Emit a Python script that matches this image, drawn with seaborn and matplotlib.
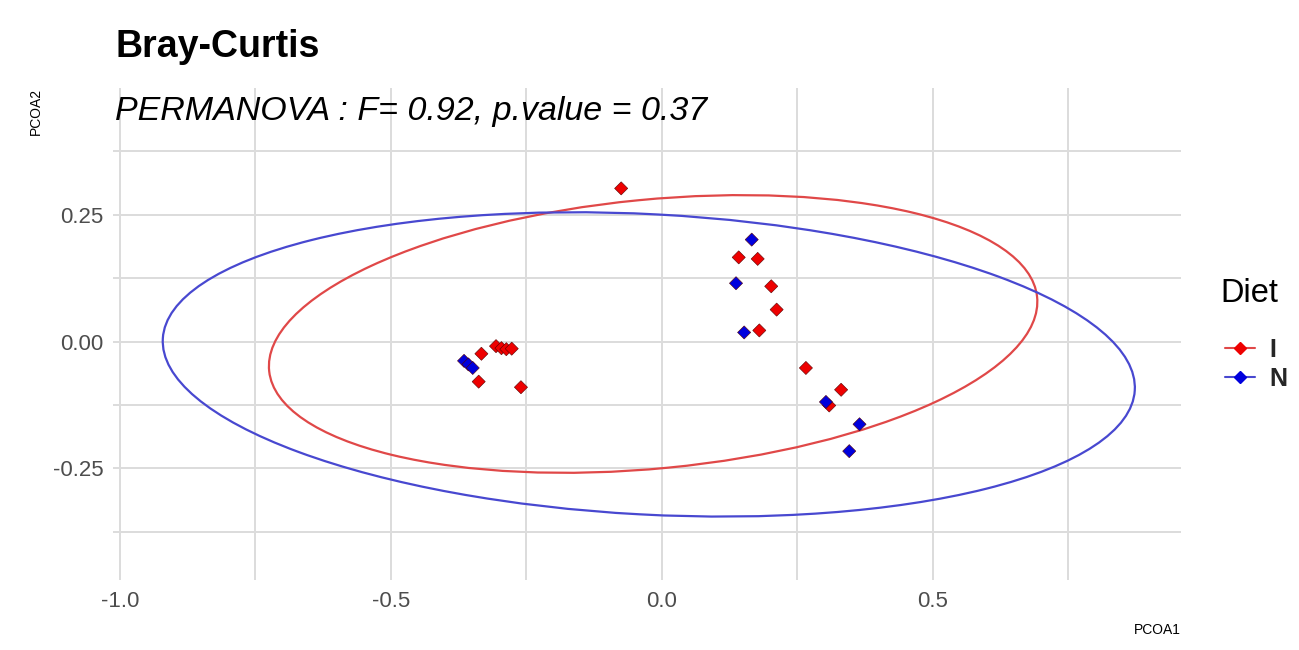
import matplotlib
matplotlib.use("Agg")
import matplotlib.pyplot as plt
from matplotlib.patches import Ellipse
from matplotlib.lines import Line2D
import seaborn as sns
import pandas as pd

# PCoA scores, per diet group
i_x = [-0.075, -0.333, -0.306, -0.296, -0.287, -0.277, -0.338, -0.260,
       0.142, 0.177, 0.202, 0.212, 0.180, 0.266, 0.331, 0.309]
i_y = [0.302, -0.024, -0.009, -0.013, -0.015, -0.014, -0.079, -0.090,
       0.166, 0.163, 0.109, 0.063, 0.022, -0.052, -0.095, -0.126]
n_x = [-0.365, -0.357, -0.349, 0.166, 0.137, 0.152, 0.303, 0.365, 0.346]
n_y = [-0.038, -0.045, -0.052, 0.201, 0.115, 0.018, -0.119, -0.163, -0.216]

groups = ["I", "N"]
point_colors = ["#EE0000", "#0000DD"]
ellipse_colors = ["#E04848", "#4848D0"]

# 95% ellipses (center, full width/height, rotation in degrees)
ell_cx = [-0.016, -0.024]
ell_cy = [0.015, -0.045]
ell_w = [1.425, 1.797]
ell_h = [0.530, 0.592]
ell_angle = [5.94, -3.27]

x_ticks = [-1.0, -0.5, 0.0, 0.5]
y_ticks = [-0.25, 0.0, 0.25]


def main():
    df = pd.DataFrame({
        "PCOA1": i_x + n_x,
        "PCOA2": i_y + n_y,
        "Diet": ["I"] * len(i_x) + ["N"] * len(n_x),
    })

    sns.set_theme(style="white")
    plt.rcParams["font.family"] = ["Liberation Sans", "DejaVu Sans"]

    fig = plt.figure(figsize=(12.99, 6.5), dpi=100)
    ax = fig.add_axes([0.087, 0.1077, 0.822, 0.757])

    # grid like theme_minimal
    for v in [-1.0, -0.75, -0.5, -0.25, 0.0, 0.25, 0.5, 0.75]:
        ax.axvline(v, color="#DCDCDC", lw=1.4, zorder=0)
    for h in [-0.375, -0.25, -0.125, 0.0, 0.125, 0.25, 0.375]:
        ax.axhline(h, color="#DCDCDC", lw=1.4, zorder=0)

    for k in range(len(groups)):
        ax.add_patch(Ellipse((ell_cx[k], ell_cy[k]), ell_w[k], ell_h[k],
                             angle=ell_angle[k], fill=False,
                             edgecolor=ellipse_colors[k], lw=1.6, zorder=2))

    sns.scatterplot(data=df, x="PCOA1", y="PCOA2", hue="Diet",
                    palette=dict(zip(groups, point_colors)), marker="D",
                    s=45, linewidth=0.4, edgecolor="#550000", legend=False,
                    ax=ax, zorder=3)

    ax.set_xlim(-1.013, 0.958)
    ax.set_ylim(-0.47, 0.50)
    ax.set_xticks(x_ticks)
    ax.set_xticklabels([f"{t:.1f}" for t in x_ticks])
    ax.set_yticks(y_ticks)
    ax.set_yticklabels([f"{t:.2f}" for t in y_ticks])
    ax.tick_params(length=0, labelsize=16, labelcolor="#4D4D4D")
    ax.tick_params(axis="x", pad=8)
    ax.tick_params(axis="y", pad=7)
    for s in ax.spines.values():
        s.set_visible(False)

    ax.set_xlabel("")
    ax.set_ylabel("")
    fig.text(0.909, 1 - 630 / 650, "PCOA1", ha="right", va="center",
             fontsize=10, color="black")
    fig.text(36 / 1299, 1 - 88 / 650, "PCOA2", ha="center", va="top",
             rotation=90, fontsize=10, color="black")

    fig.text(115 / 1299, 1 - 57 / 650, "Bray-Curtis", ha="left", va="baseline",
             fontsize=27, fontweight="bold", color="black")
    ax.text(-1.009, 0.453, "PERMANOVA : F= 0.92, p.value = 0.37",
            ha="left", va="center", fontsize=24.5, style="italic",
            color="black", zorder=4)

    # legend: title as plain text, keys below it
    fig.text(1220 / 1299, 1 - 293 / 650, "Diet", ha="left", va="center",
             fontsize=23.5, color="black")
    handles = [Line2D([0], [0], color=ellipse_colors[k], lw=1.5, marker="D",
                      markersize=6.5, markerfacecolor=point_colors[k],
                      markeredgecolor=point_colors[k]) for k in range(2)]
    fig.legend(handles, groups, loc="upper left",
               bbox_to_anchor=(1202 / 1299, 1 - 315 / 650), frameon=False,
               handlelength=1.2, handletextpad=0.6, labelspacing=0.2,
               prop={"size": 18, "weight": "bold"})

    fig.savefig("out.png", dpi=100)


if __name__ == "__main__":
    main()
